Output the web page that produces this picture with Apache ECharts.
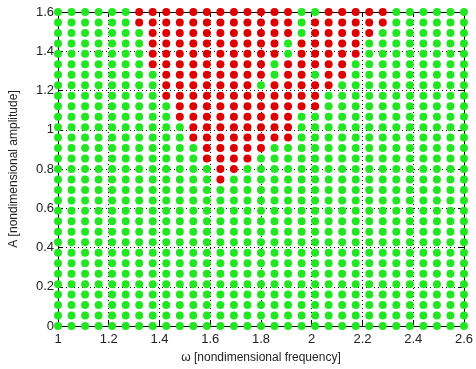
<!DOCTYPE html>
<html>
<head>
<meta charset="utf-8">
<script src="https://cdn.jsdelivr.net/npm/echarts@6/dist/echarts.min.js"></script>
<style>
  html, body { margin: 0; padding: 0; background: #fff; }
  #chart { width: 476px; height: 369px; }
</style>
</head>
<body>
<div id="chart"></div>
<script>
// Sampled frequencies (columns) and amplitudes (rows) of the scan.
const omega = [1.0000, 1.0533, 1.1067, 1.1600, 1.2133, 1.2667, 1.3200, 1.3733, 1.4267, 1.4800,
  1.5333, 1.5867, 1.6400, 1.6933, 1.7467, 1.8000, 1.8533, 1.9067, 1.9600, 2.0133,
  2.0667, 2.1200, 2.1733, 2.2267, 2.2800, 2.3333, 2.3867, 2.4400, 2.4933, 2.5467, 2.6000];
const amplitude = [1.6000, 1.5467, 1.4933, 1.4400, 1.3867, 1.3333, 1.2800, 1.2267, 1.1733, 1.1200,
  1.0667, 1.0133, 0.9600, 0.9067, 0.8533, 0.8000, 0.7467, 0.6933, 0.6400, 0.5867,
  0.5333, 0.4800, 0.4267, 0.3733, 0.3200, 0.2667, 0.2133, 0.1600, 0.1067, 0.0533, 0.0000];
// One string per amplitude (top to bottom), one character per frequency:
// 'R' = red point, '.' = green point.
const regimeRows = [
  "......RRRRRRRRRRRR..RRRRR......",
  "......RRRRRRRRRRRR.RRRRRR......",
  ".......RRRRRRRRRRR.RRRRR.......",
  ".......RRRRRRRRRR.RRRRR........",
  ".......RRRRRRRRRR.RRRRR........",
  ".......RRRRRRRRR.RRRRR.........",
  "........RRRRRRRR.RR.RR.........",
  "........RRRRRRR.RRRRR..........",
  "........RRRRRRRRRRRR...........",
  ".........RRRRRRRRRRR...........",
  ".........RRRRRRRRR.............",
  "..........RRRRRRRR.............",
  "..........RRRRRRRR.............",
  "...........RRRRR...............",
  "...........RRRR................",
  "............RR.................",
  "............R..................",
  "...............................",
  "...............................",
  "...............................",
  "...............................",
  "...............................",
  "...............................",
  "...............................",
  "...............................",
  "...............................",
  "...............................",
  "...............................",
  "...............................",
  "...............................",
  "..............................."
];
const xTicks = [1, 1.2, 1.4, 1.6, 1.8, 2, 2.2, 2.4, 2.6];
const yTicks = [0, 0.2, 0.4, 0.6, 0.8, 1, 1.2, 1.4, 1.6];

const greenPts = [], redPts = [];
regimeRows.forEach(function (row, r) {
  for (let c = 0; c < omega.length; c++) {
    const p = [omega[c], amplitude[r]];
    (row.charAt(c) === 'R' ? redPts : greenPts).push(p);
  }
});

const FONT = 'Liberation Sans, Arial, sans-serif';
const gridLine = { show: true, lineStyle: { color: '#000', width: 1, type: [1, 3] } };

function tickFormatter(ticks) {
  return function (v) {
    const t = ticks.find(function (k) { return Math.abs(k - v) < 1e-6; });
    return t === undefined ? '' : String(t);
  };
}
function mainAxis(min, max, interval, extra) {
  return Object.assign({
    type: 'value', min: min, max: max, interval: interval,
    axisLine: { show: true, onZero: false, lineStyle: { color: '#000', width: 1 } },
    axisTick: { show: true, inside: true, length: 5, lineStyle: { color: '#000' } },
    splitLine: gridLine
  }, extra);
}
function boxAxis(min, max, interval, pos) {
  return {
    type: 'value', min: min, max: max, interval: interval, position: pos,
    axisLine: { show: true, onZero: false, lineStyle: { color: '#000', width: 1 } },
    axisTick: { show: true, inside: true, length: 5, lineStyle: { color: '#000' } },
    axisLabel: { show: false }, splitLine: { show: false }
  };
}

const chart = echarts.init(document.getElementById('chart'), null, { renderer: 'canvas' });
chart.setOption({
  animation: false,
  backgroundColor: '#fff',
  grid: { left: 57, top: 12, width: 409, height: 314 },
  xAxis: [
    mainAxis(1, 2.6, 0.2, {
      position: 'bottom',
      name: 'ω [nondimensional frequency]', nameLocation: 'middle', nameGap: 26,
      nameTextStyle: { color: '#222', fontFamily: FONT, fontSize: 12 },
      axisLabel: { color: '#222', fontFamily: FONT, fontSize: 13, margin: 7, formatter: tickFormatter(xTicks) }
    }),
    boxAxis(1, 2.6, 0.2, 'top')
  ],
  yAxis: [
    mainAxis(0, 1.6, 0.2, {
      position: 'left',
      name: 'A [nondimensional amplitude]', nameLocation: 'middle', nameGap: 38,
      nameTextStyle: { color: '#222', fontFamily: FONT, fontSize: 12 },
      axisLabel: { color: '#222', fontFamily: FONT, fontSize: 13, margin: 4, formatter: tickFormatter(yTicks) }
    }),
    boxAxis(0, 1.6, 0.2, 'right')
  ],
  series: [
    {
      type: 'scatter', name: 'green', data: greenPts, symbol: 'circle', symbolSize: 8,
      clip: false, silent: true, z: 3,
      itemStyle: { color: '#22e622', opacity: 1 }
    },
    {
      type: 'scatter', name: 'red', data: redPts, symbol: 'circle', symbolSize: 8,
      clip: false, silent: true, z: 3,
      itemStyle: { color: '#dd0000', opacity: 1 }
    }
  ]
});
</script>
</body>
</html>
